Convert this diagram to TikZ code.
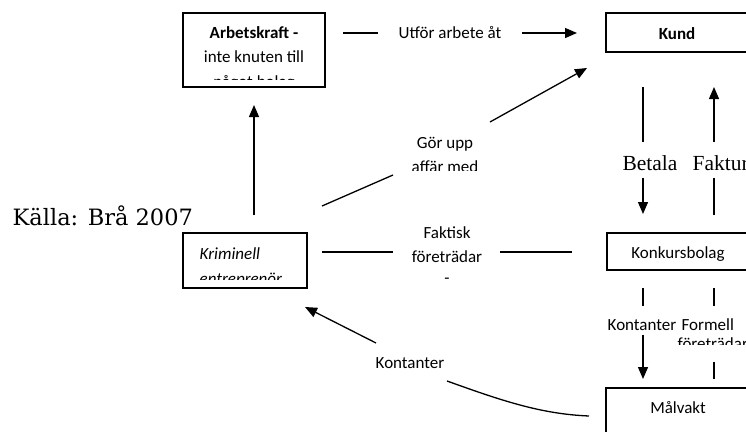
\documentclass[tikz,border=0pt]{standalone}
\usepackage{fontspec}
\setmainfont{Carlito}
\newfontfamily\timesf{Liberation Serif}
\newfontfamily\dvserif{DejaVu Serif}
\usetikzlibrary{arrows.meta}
\begin{document}
\begin{tikzpicture}[x=1pt,y=-1pt,line width=1.3pt,
  box/.style={draw,line width=1.3pt,inner sep=0pt},
  lbl/.style={font=\fontsize{17}{25}\selectfont,inner sep=0pt,anchor=base},
  lblw/.style={font=\fontsize{17}{25}\selectfont,inner sep=0pt,anchor=base west},
  tlbl/.style={font=\timesf\fontsize{21.5}{24}\selectfont,inner sep=0pt,anchor=base},
  arr/.style={-{Triangle[length=12pt,width=10pt]}},
  ln/.style={line cap=butt}]
\useasboundingbox (0,0) rectangle (746,431);
\clip (0,0) rectangle (746,431);

% boxes
\node[box,minimum width=142,minimum height=74] (arb) at (254,50) {};
\node[box,minimum width=146,minimum height=39] (kund) at (679,32.5) {};
\node[box,minimum width=124,minimum height=55] (krim) at (245,260.5) {};
\node[box,minimum width=146,minimum height=37] (konk) at (680,251.5) {};
\node[box,minimum width=146,minimum height=56] (malv) at (679,416) {};

% box texts
\node[lbl,font=\bfseries\fontsize{17}{25}\selectfont] (arbt1) at (254,38.5) {Arbetskraft -};
\node[lbl] (arbt2) at (254,62.5) {inte knuten till};
\begin{scope}
\clip (184,70) rectangle (324,79);
\node[lbl] (arbt3) at (254,87.5) {något bolag};
\end{scope}
\node[lbl,font=\bfseries\fontsize{17}{25}\selectfont] (kundt) at (677,39.5) {Kund};
\node[lblw,font=\itshape\fontsize{17}{25}\selectfont] (krimt1) at (199,259.5) {Kriminell};
\begin{scope}
\clip (184,265) rectangle (306,279);
\node[lblw,font=\itshape\fontsize{17}{25}\selectfont] (krimt2) at (199,284) {entreprenör};
\end{scope}
\node[lbl] (konkt) at (678,258.5) {Konkursbolag};
\node[lbl] (malvt) at (678,413.5) {Målvakt};

% source
\node[inner sep=0pt,anchor=base west,font=\dvserif\fontsize{22.5}{26}\selectfont] (kalla) at (12,225) {Källa: Brå 2007};

% Utför arbete åt
\coordinate (u1) at (343,33); \coordinate (u2) at (378,33);
\coordinate (u3) at (522,33); \coordinate (u4) at (577,33);
\node[lbl] (utfor) at (450,38.5) {Utför arbete åt};
\draw[ln] (u1) -- (u2);
\draw[arr] (u3) -- (u4);

% Kriminell -> Arbetskraft
\coordinate (k1) at (254,215); \coordinate (k2) at (254,105);
\draw[arr] (k1) -- (k2);

% Gör upp affär med
\coordinate (g1) at (322,206); \coordinate (g2) at (393,175);
\coordinate (g3) at (490,122); \coordinate (g4) at (587,68);
\node[lbl] (gor1) at (445,148) {Gör upp};
\begin{scope}
\clip (390,155) rectangle (500,170);
\node[lbl] (gor2) at (445,172) {affär med};
\end{scope}
\draw[ln] (g1) -- (g2);
\draw[arr] (g3) -- (g4);

% Faktisk företrädare
\coordinate (f1) at (322,252); \coordinate (f2) at (393,252);
\coordinate (f3) at (500,252); \coordinate (f4) at (572,252);
\node[lbl] (fak1) at (447,238.5) {Faktisk};
\node[lbl] (fak2) at (447,262.5) {företrädar};
\node[lbl] (fak3) at (447,283) {-};
\draw[ln] (f1) -- (f2);
\draw[ln] (f3) -- (f4);

% Betala / Faktura
\coordinate (b1) at (643,87); \coordinate (b2) at (643,142);
\coordinate (b3) at (643,178); \coordinate (b4) at (643,214);
\coordinate (fa1) at (714,142); \coordinate (fa2) at (714,87);
\coordinate (fa3) at (714,215); \coordinate (fa4) at (714,178);
\node[tlbl] (betala) at (650,170) {Betala};
\node[tlbl,anchor=base west] (faktura) at (692,170) {Faktura};
\draw[ln] (b1) -- (b2);
\draw[arr] (b3) -- (b4);
\draw[arr] (fa1) -- (fa2);
\draw[ln] (fa3) -- (fa4);

% Kontanter / Formell företrädare
\coordinate (c1) at (643,288); \coordinate (c2) at (643,306);
\coordinate (c3) at (643,335); \coordinate (c4) at (643,379);
\coordinate (d1) at (714,288); \coordinate (d2) at (714,306);
\coordinate (d3) at (714,362); \coordinate (d4) at (714,379);
\node[lbl] (kontr) at (642,330.5) {Kontanter};
\node[lblw] (formell) at (681,330.5) {Formell};
\begin{scope}
\clip (670,334) rectangle (746,344);
\node[lblw] (foretr) at (677,349) {företrädare};
\end{scope}
\draw[ln] (c1) -- (c2);
\draw[arr] (c3) -- (c4);
\draw[ln] (d1) -- (d2);
\draw[ln] (d3) -- (d4);

% Kontanter back to Kriminell
\coordinate (m1) at (589,416); \coordinate (m2) at (447,381);
\coordinate (m3) at (376,343); \coordinate (m4) at (305,307);
\node[lbl] (kontl) at (410,368.5) {Kontanter};
\draw[ln] (m2) .. controls (500,400) and (540,414) .. (m1);
\draw[arr] (m3) -- (m4);
\end{tikzpicture}
\end{document}
